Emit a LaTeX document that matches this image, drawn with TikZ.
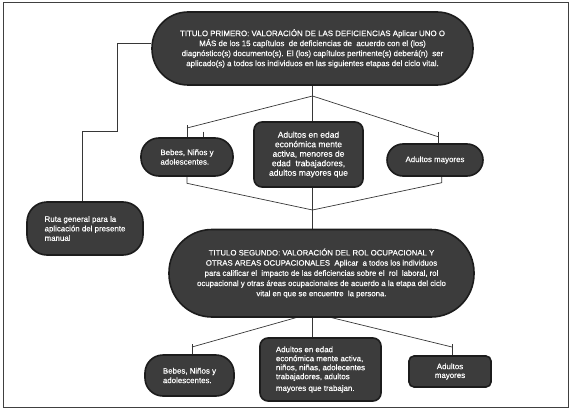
\documentclass[tikz,border=0pt]{standalone}
\usepackage{fontspec}
\setmainfont{Liberation Sans}[FakeBold=0.35]
\usetikzlibrary{backgrounds}
\definecolor{boxfill}{RGB}{60,60,60}
\definecolor{boxline}{RGB}{28,28,28}
\definecolor{conn}{RGB}{55,55,55}
\tikzset{
  box/.style={draw=boxline, fill=boxfill, line width=1.6pt, text=white, inner sep=0pt,
    font=\fontsize{7.9}{9.5}\selectfont},
  link/.style={draw=conn, line width=0.7pt},
}
\begin{document}
\begin{tikzpicture}[x=1pt,y=-1pt]
\useasboundingbox (0,0) rectangle (572,409);
\draw[line width=0.9pt, draw=black!75] (3,2) rectangle (568.5,407.3);

\node[box, minimum width=321pt, minimum height=73pt, rounded corners=36pt, align=center,
  font=\fontsize{7.9}{10}\selectfont] (top) at (312.5,48.5)
  {TITULO PRIMERO: VALORACIÓN DE LAS DEFICIENCIAS Aplicar UNO O\\
   MÁS de los 15 capítulos\ \ de deficiencias de\ \ acuerdo con el (los)\\
   diagnóstico(s) documento(s). El (los) capítulos pertinente(s) deberá(n)\ \ ser\\
   aplicado(s) a todos los individuos en las siguientes etapas del ciclo vital.};

\node[box, minimum width=92pt, minimum height=38pt, rounded corners=18pt, align=left] (mL) at (187,157)
  {Bebes, Niños y\\ adolescentes.};
\node[box, minimum width=109pt, minimum height=65pt, rounded corners=8pt, align=center,
  font=\fontsize{8.5}{9.5}\selectfont] (mC) at (308.5,154.5)
  {Adultos en edad\\ económica mente\\ activa, menores de\\ edad\ \ trabajadores,\\ adultos mayores que};
\node[box, minimum width=96pt, minimum height=32pt, rounded corners=16pt, align=center] (mR) at (435,160)
  {Adultos mayores};

\node[box, minimum width=116pt, minimum height=53pt, rounded corners=20pt, align=left] (ruta) at (85,228.5)
  {Ruta general para la\\ aplicación del presente\\ manual};

\node[box, minimum width=305pt, minimum height=87.5pt, rounded corners=43pt, align=center,
  font=\fontsize{7.8}{10.2}\selectfont] (bot) at (321.5,273.25)
  {TITULO SEGUNDO: VALORACIÓN DEL ROL OCUPACIONAL Y\\
   OTRAS AREAS OCUPACIONALES\ \ Aplicar\ \ a todos los individuos\\
   para calificar el\ \ impacto de las deficiencias sobre el\ \ rol\ \ laboral, rol\\
   ocupacional y otras áreas ocupacionales de acuerdo a la etapa del ciclo\\
   vital en que se encuentre\ \ la persona.};

\node[box, minimum width=89pt, minimum height=41pt, rounded corners=18pt, align=left] (bL) at (189.5,375.5)
  {Bebes, Niños y\\ adolescentes.};
\node[box, minimum width=121pt, minimum height=63pt, rounded corners=8pt, align=left,
  font=\fontsize{7.9}{9}\selectfont] (bC) at (320.5,369.5)
  {Adultos en edad\\ económica mente activa,\\ niños, niñas, adolecentes\\ trabajadores, adultos\\[2.7pt] mayores que trabajan.};
\node[box, minimum width=82pt, minimum height=31pt, rounded corners=5pt, align=center,
  font=\fontsize{7.9}{8.8}\selectfont] (bR) at (450,371.5)
  {Adultos\\ mayores};

\coordinate (a1) at (312.5,96);
\coordinate (l1) at (187,128);
\coordinate (lt) at (187,125);
\coordinate (tk) at (203,131.5);
\coordinate (r1) at (438,136.7);
\coordinate (rt) at (438,131.5);
\coordinate (a2) at (312.5,210);
\coordinate (l2) at (187,183.3);
\coordinate (r2) at (441.7,182.7);
\coordinate (c1) at (117,43);
\coordinate (c2) at (82,131);
\coordinate (a3) at (312.5,313);
\coordinate (l3) at (192,347);
\coordinate (l3t) at (192,344);
\coordinate (r3) at (452,347);
\coordinate (r3t) at (452,344);

\begin{pgfonlayer}{background}
  \draw[link] (top.south -| a1) -- (a1 |- mC.north);
  \draw[link] (a1) -- (l1);
  \draw[link] (lt) -- (lt |- mL.north);
  \draw[link] (tk) -- (tk |- mL.north);
  \draw[link] (a1) -- (r1);
  \draw[link] (rt) -- (rt |- mR.north);
  \draw[link] (mL.south) -- (l2) -- (a2);
  \draw[link] (r2 |- mR.south) -- (r2) -- (a2);
  \draw[link] (a2 |- mC.south) -- (a2 |- bot.north);
  \draw[link] (c1 -| top.west) -- (c1) |- (c2) -- (c2 |- ruta.north);
  \draw[link] (a3) -- (l3);
  \draw[link] (a3) -- (r3);
  \draw[link] (l3t) -- (l3t |- bL.north);
  \draw[link] (r3t) -- (r3t |- bR.north);
  \draw[link] (a3 |- bot.south) -- (a3 |- bC.north);
\end{pgfonlayer}
\end{tikzpicture}
\end{document}
